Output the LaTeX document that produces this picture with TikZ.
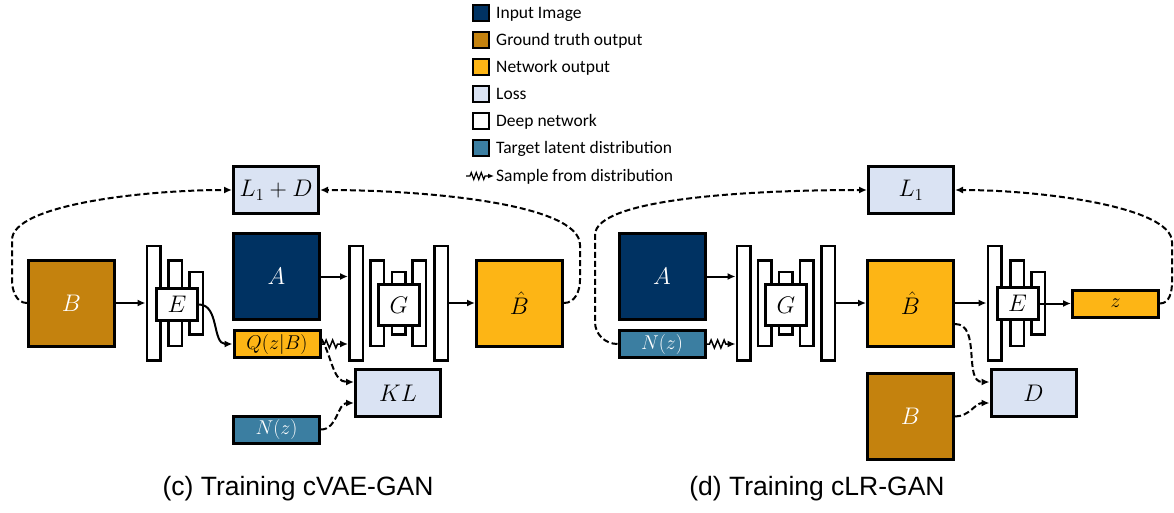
\RequirePackage{fix-cm}
\documentclass[tikz,border=0pt]{standalone}
\usepackage{fontspec}
\newfontfamily\legfont{Carlito}
\newfontfamily\capfont{Liberation Sans}
\usetikzlibrary{arrows.meta,decorations.pathmorphing}
\definecolor{inblue}{HTML}{003262}
\definecolor{gtbrown}{HTML}{C4820E}
\definecolor{netgold}{HTML}{FDB515}
\definecolor{lossblue}{HTML}{DAE3F3}
\definecolor{latblue}{HTML}{3B7EA1}
\tikzset{
  box/.style={draw=black, line width=3pt, inner sep=0pt, minimum width=86pt},
  img/.style={box, minimum height=86pt, font=\fontsize{24}{26}\selectfont},
  strip/.style={box, minimum height=27pt, font=\fontsize{20}{22}\selectfont},
  loss/.style={box, fill=lossblue, minimum width=85pt, minimum height=47pt, font=\fontsize{24}{26}\selectfont},
  bar/.style={draw=black, fill=white, line width=2.5pt, inner sep=0pt, minimum width=13.5pt},
  netbox/.style={draw=black, fill=white, line width=3pt, inner sep=0pt, minimum width=41pt, font=\fontsize{24}{26}\selectfont},
  conn/.style={line width=2pt, -{Latex[length=8pt,width=7pt]}},
  lossconn/.style={conn, dash pattern=on 6pt off 3pt},
  sample/.style={line width=1.5pt, -{Latex[length=8pt,width=7pt]}, decorate, decoration={zigzag, amplitude=4pt, segment length=6.5pt, pre length=3pt, post length=8pt}},
  legsample/.style={line width=1.2pt, -{Latex[length=6pt,width=5pt]}, decorate, decoration={zigzag, amplitude=3.5pt, segment length=5pt, pre length=4pt, post length=7pt}},
  legbox/.style={draw=black, line width=2pt, minimum size=16pt, inner sep=0pt},
  legtext/.style={font=\legfont\fontsize{17.5}{20}\selectfont, anchor=base west, inner sep=0pt},
  captext/.style={font=\capfont\fontsize{26.5}{30}\selectfont, anchor=base, inner sep=0pt}
}
\begin{document}
\begin{tikzpicture}[x=1pt, y=-1pt]
\useasboundingbox (0,0) rectangle (1174,513);

\foreach \c/\t [count=\i] in {inblue/Input Image, gtbrown/Ground truth output, netgold/Network output, lossblue/Loss, white/Deep network, latblue/Target latent distribution}{
  \node[legbox, fill=\c] (lg\i) at (480.5,{13+27*(\i-1)}) {};
  \node[legtext] (lt\i) at (496,{18.6+27*(\i-1)}) {\t};
}
\coordinate (smpa) at (466,176);
\coordinate (smpb) at (494,176);
\draw[legsample] (smpa) -- (smpb);
\node[legtext] (lt7) at (496,181.6) {Sample from distribution};

% cVAE-GAN
\node[img, fill=gtbrown, text=white] (imgB1) at (71.5,303) {$B$};
\foreach \x/\h [count=\i] in {153.5/114.5, 175/85.5, 196/62.5}
  \node[bar, minimum height=\h pt] (el\i) at (\x,303) {};
\node[netbox, minimum height=32pt] (boxE1) at (177,304.5) {$E$};
\node[img, fill=inblue, text=white] (imgA1) at (276.5,276.5) {$A$};
\node[strip, fill=netgold] (outQ1) at (277,344) {$Q(z|B)$};
\node[strip, fill=latblue, text=white] (latN1) at (276.5,429.5) {$N(z)$};
\node[loss] (lossLD) at (276,190) {$L_1+D$};
\foreach \x/\h [count=\i] in {356/114.5, 377/85.5, 398.5/62.5, 419/85.5, 441/114.5}
  \node[bar, minimum height=\h pt] (gl\i) at (\x,303) {};
\node[netbox, minimum height=41pt] (boxG1) at (399,305) {$G$};
\node[img, fill=netgold] (outB1) at (519.5,303) {$\hat{B}$};
\node[loss] (lossKL) at (398,393) {$KL$};

\draw[conn] (imgB1) -- (el1);
\draw[conn] (boxE1.east) to[out=0,in=180] (outQ1.west);
\draw[conn] (imgA1) -- (imgA1 -| gl1.west);
\draw[sample] (outQ1.east) -- (outQ1.east -| gl1.west);
\draw[conn] (gl5) -- (outB1);
\draw[lossconn] ([yshift=5pt]outQ1.east) to[out=-60,in=180] ([yshift=11pt]lossKL.west);
\draw[lossconn] (latN1.east) to[out=0,in=180] ([yshift=-10pt]lossKL.west);
\draw[lossconn] (imgB1.west) to[out=180,in=-90] (12,280) -- (12,240) to[out=90,in=180,out looseness=0.4] (lossLD.west);
\draw[lossconn] (outB1.east) to[out=0,in=-90] (580,280) -- (580,245) to[out=90,in=0,out looseness=0.4] (lossLD.east);

% cLR-GAN
\node[img, fill=inblue, text=white] (imgA2) at (662,276.5) {$A$};
\node[strip, fill=latblue, text=white] (latN2) at (662,344) {$N(z)$};
\foreach \x/\h [count=\i] in {743.5/114.5, 764.5/85.5, 785.5/62.5, 806.5/85.5, 828/114.5}
  \node[bar, minimum height=\h pt] (gr\i) at (\x,303) {};
\node[netbox, minimum height=41pt] (boxG2) at (786,305) {$G$};
\node[img, fill=netgold] (outB2) at (910.5,303) {$\hat{B}$};
\foreach \x/\h [count=\i] in {994.5/114.5, 1017/85.5, 1038/62.5}
  \node[bar, minimum height=\h pt] (er\i) at (\x,303) {};
\node[netbox, minimum height=32pt] (boxE2) at (1017.5,303.5) {$E$};
\node[strip, fill=netgold] (outz2) at (1115.5,303.5) {$z$};
\node[loss] (lossL1) at (911,190) {$L_1$};
\node[loss] (lossD) at (1033.5,393) {$D$};
\node[img, fill=gtbrown, text=white] (imgB2) at (910.5,416.5) {$B$};

\draw[conn] (imgA2) -- (imgA2 -| gr1.west);
\draw[sample] (latN2.east) -- (latN2.east -| gr1.west);
\draw[conn] (gr5) -- (outB2);
\draw[conn] (outB2) -- (er1);
\draw[conn] (boxE2) -- (outz2);
\draw[lossconn] ([yshift=-21pt]outB2.east) to[out=0,in=180] ([yshift=11pt]lossD.west);
\draw[lossconn] (imgB2.east) to[out=0,in=180] ([yshift=-10pt]lossD.west);
\draw[lossconn] (latN2.west) to[out=180,in=-90] (595,322) -- (595,235) to[out=90,in=180,out looseness=0.35] (lossL1.west);
\draw[lossconn] (outz2.east) to[out=0,in=-90] (1172,282) -- (1172,242) to[out=90,in=0,out looseness=0.4] (lossL1.east);

\node[captext] (cap1) at (298,495) {(c) Training cVAE-GAN};
\node[captext] (cap2) at (817,495) {(d) Training cLR-GAN};
\end{tikzpicture}
\end{document}
